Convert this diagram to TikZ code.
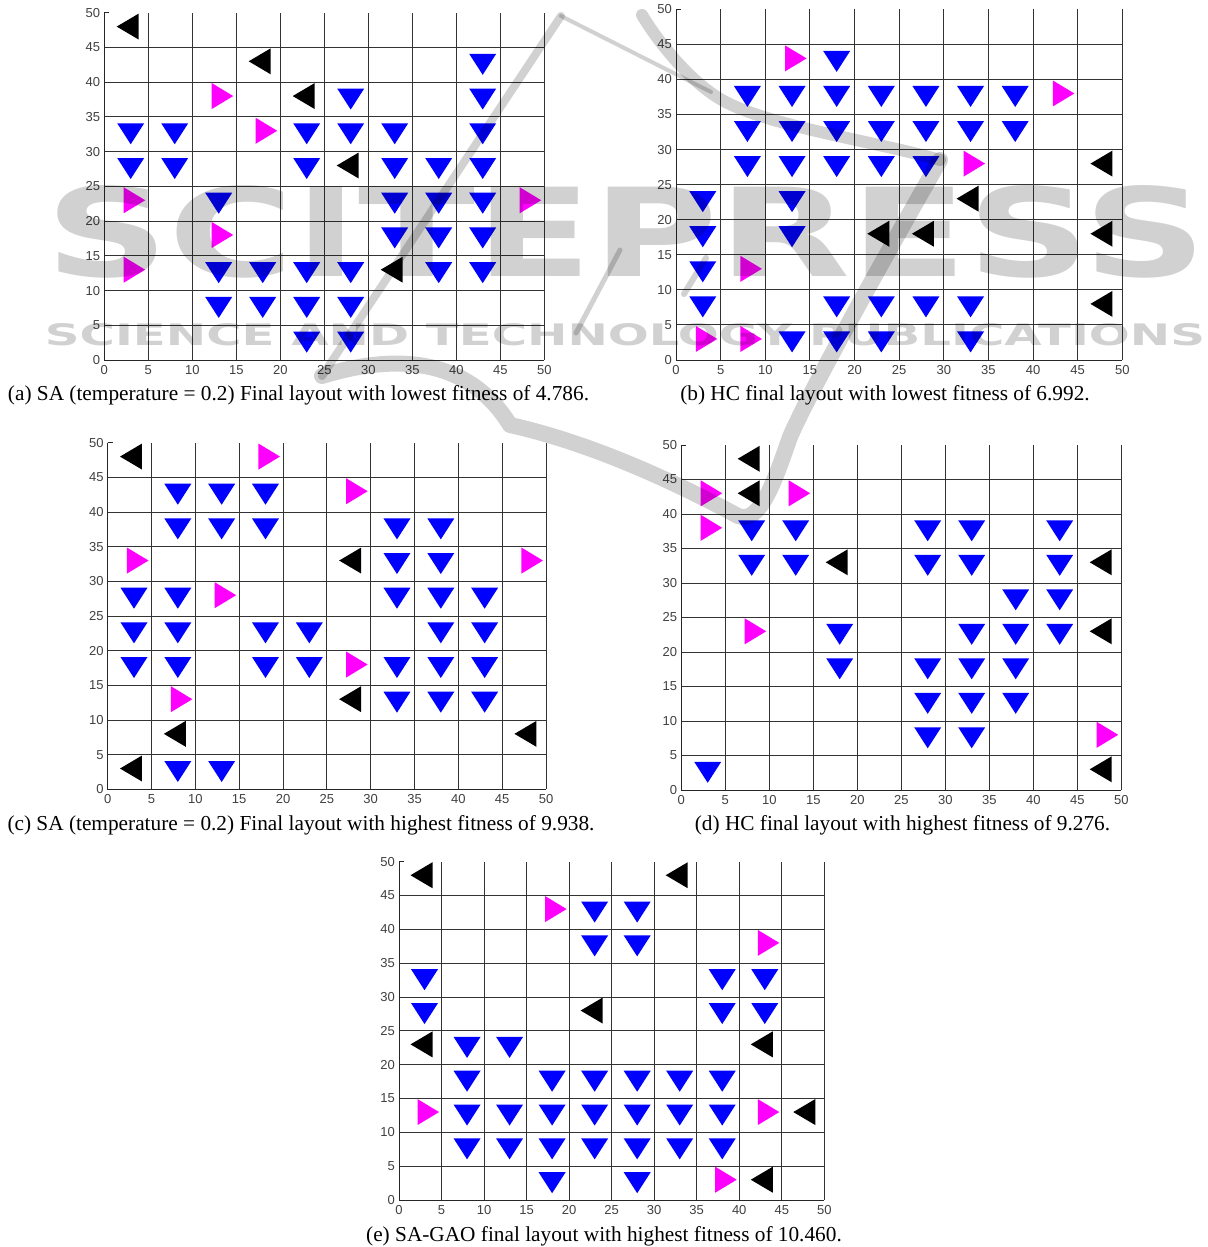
\documentclass[tikz,border=0pt]{standalone}
\usepackage{fontspec}
\setmainfont{Liberation Serif}
\newfontfamily\tickfont{Liberation Sans}
\newfontfamily\wmfont{DejaVu Sans}
\usepackage{graphicx}
\usepackage{tikz}
\usetikzlibrary{positioning}

\definecolor{mkblue}{RGB}{0,0,255}
\definecolor{mkmagenta}{RGB}{255,0,255}

\tikzset{
  gridline/.style={draw=black!80,line width=0.9pt},
  axisline/.style={draw=black!85,line width=0.9pt},
  ticklbl/.style={font=\tickfont\fontsize{13}{13}\selectfont,text=black!75,inner sep=0pt},
  caption/.style={font=\fontsize{21.3}{23}\selectfont,inner sep=0pt},
  downmark/.style={fill=mkblue},
  leftmark/.style={fill=black},
  rightmark/.style={fill=mkmagenta},
  wmark/.style={color=black,opacity=0.18},
}

% grid, axes and tick labels of one layout plot
\newcommand{\layoutgrid}[1]{%
  \foreach \g in {5,10,...,50} \draw[gridline] (\g,0) -- (\g,50);
  \foreach \g in {5,10,...,45} \draw[gridline] (0,\g) -- (50,\g);
  \draw[axisline] (0,50) -- (0,0) -- (50,0);
  \draw[axisline] (0,50) -- ++(5pt,0pt);
  \foreach \t in {0,5,...,50} {
    \node[ticklbl,anchor=east] (#1y\t) at ([xshift=-4pt]0,\t) {\t};
    \node[ticklbl,anchor=north] (#1x\t) at ([yshift=-5pt]\t,0) {\t};
  }
}
% markers: down (blue), left (black), right (magenta)
\newcommand{\layoutmarks}[3]{%
  \foreach \mx/\my in {#1}
    \fill[downmark] (\mx,\my) ++(-13.5pt,7.5pt) -- ++(27pt,0pt) -- ++(-13.5pt,-21pt) -- cycle;
  \foreach \mx/\my in {#2}
    \fill[leftmark] (\mx,\my) ++(-14pt,0pt) -- ++(22pt,13pt) -- ++(0pt,-26pt) -- cycle;
  \foreach \mx/\my in {#3}
    \fill[rightmark] (\mx,\my) ++(14.5pt,0pt) -- ++(-21.5pt,13pt) -- ++(0pt,-26pt) -- cycle;
}

\begin{document}
\begin{tikzpicture}[x=1pt,y=-1pt]
\fill[white] (0,0) rectangle (1207,1247);
\useasboundingbox (0,0) rectangle (1207,1247);

% (a)
\begin{scope}[shift={(104.3,360)},x=8.8pt,y=6.946pt]
\layoutgrid{a}
\layoutmarks{43/43,28/38,43/38,3/33,8/33,23/33,28/33,33/33,43/33,3/28,8/28,23/28,33/28,38/28,43/28,13/23,33/23,38/23,43/23,33/18,38/18,43/18,13/13,18/13,23/13,28/13,38/13,43/13,13/8,18/8,23/8,28/8,23/3,28/3}
  {3/48,18/43,23/38,28/28,33/13}
  {13/38,18/33,3/23,48/23,13/18,3/13}
\end{scope}

% (b)
\begin{scope}[shift={(676,360)},x=8.926pt,y=7.014pt]
\layoutgrid{b}
\layoutmarks{18/43,8/38,13/38,18/38,23/38,28/38,33/38,38/38,8/33,13/33,18/33,23/33,28/33,33/33,38/33,8/28,13/28,18/28,23/28,28/28,3/23,13/23,3/18,13/18,3/13,3/8,18/8,23/8,28/8,33/8,13/3,18/3,23/3,33/3}
  {48/28,33/23,23/18,28/18,48/18,48/8}
  {13/43,43/38,33/28,8/13,3/3,8/3}
\end{scope}

% (c)
\begin{scope}[shift={(107.7,789.3)},x=8.766pt,y=6.932pt]
\layoutgrid{c}
\layoutmarks{8/43,13/43,18/43,8/38,13/38,18/38,33/38,38/38,33/33,38/33,3/28,8/28,33/28,38/28,43/28,3/23,8/23,18/23,23/23,38/23,43/23,3/18,8/18,18/18,23/18,33/18,38/18,43/18,33/13,38/13,43/13,8/3,13/3}
  {3/48,28/33,28/13,8/8,48/8,3/3}
  {18/48,28/43,3/33,48/33,13/28,28/18,8/13}
\end{scope}

% (d)
\begin{scope}[shift={(681.3,790)},x=8.8pt,y=6.9pt]
\layoutgrid{d}
\layoutmarks{8/38,13/38,28/38,33/38,43/38,8/33,13/33,28/33,33/33,43/33,38/28,43/28,18/23,33/23,38/23,43/23,18/18,28/18,33/18,38/18,28/13,33/13,38/13,28/8,33/8,3/3}
  {8/48,8/43,18/33,48/33,48/23,48/3}
  {3/43,13/43,3/38,8/23,48/8}
\end{scope}

% (e)
\begin{scope}[shift={(399,1200)},x=8.506pt,y=6.766pt]
\layoutgrid{e}
\layoutmarks{23/43,28/43,23/38,28/38,3/33,38/33,43/33,3/28,38/28,43/28,8/23,13/23,8/18,18/18,23/18,28/18,33/18,38/18,8/13,13/13,18/13,23/13,28/13,33/13,38/13,8/8,13/8,18/8,23/8,28/8,33/8,38/8,18/3,28/3}
  {3/48,33/48,23/28,3/23,43/23,48/13,43/3}
  {18/43,43/38,3/13,43/13,38/3}
\end{scope}

% captions
\node[caption] (capa) at (298.5,395) {(a) SA (temperature = 0.2) Final layout with lowest fitness of 4.786.};
\node[caption] (capb) at (885,395) {(b) HC final layout with lowest fitness of 6.992.};
\node[caption] (capc) at (301,825) {(c) SA (temperature = 0.2) Final layout with highest fitness of 9.938.};
\node[caption] (capd) at (902.5,825) {(d) HC final layout with highest fitness of 9.276.};
\node[caption] (cape) at (604,1236) {(e) SA-GAO final layout with highest fitness of 10.460.};

% watermark
\begin{scope}[wmark,line cap=round,line join=round]
\node[inner sep=0pt] (wmbig) at (626,231.5) {\resizebox{1160pt}{91pt}{\wmfont\bfseries SCITEPRESS}};
\node[inner sep=0pt] (wmsmall) at (625,335) {\resizebox{1160pt}{22pt}{\wmfont\bfseries SCIENCE AND TECHNOLOGY PUBLICATIONS}};
\draw[line width=8pt] (561,16) -- (322,376);
\draw[line width=16pt] (322,376) .. controls (400,352) and (470,360) .. (510,425)
  .. controls (600,445) and (690,490) .. (738,516)
  .. controls (760,525) and (775,480) .. (790,437)
  .. controls (810,390) and (900,230) .. (940,160);
\draw[line width=12pt] (940,160) .. controls (870,140) and (760,125) .. (717,97)
  .. controls (690,80) and (660,45) .. (642,15);
\draw[line width=4pt] (561,16) -- (711,92);
\draw[line width=5pt] (620,250) -- (576,333);
\draw[line width=6pt] (706,258) -- (684,294);
\end{scope}
\end{tikzpicture}
\end{document}
